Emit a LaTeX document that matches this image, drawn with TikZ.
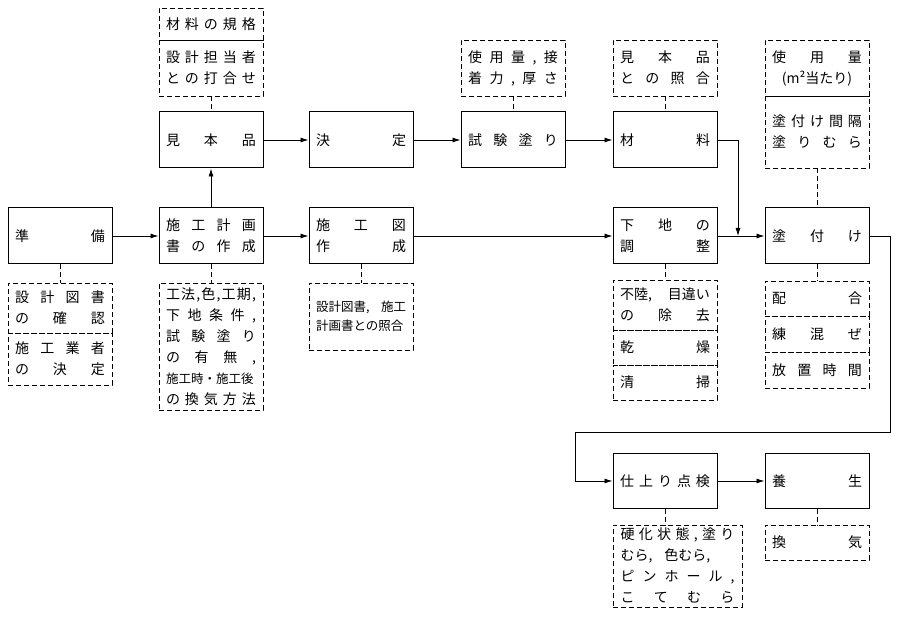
\documentclass[tikz,border=0pt]{standalone}
\usepackage{fontspec}
\setmainfont{Noto Sans CJK JP}
\usetikzlibrary{arrows.meta}
\makeatletter
\def\dist#1{\hbox to 90pt{\distA#1\relax}}
\def\distw#1#2{\hbox to #1{\distA#2\relax}}
\def\distA#1{\ifx#1\relax\else#1\expandafter\distB\fi}
\def\distB#1{\ifx#1\relax\else\hfil#1\expandafter\distB\fi}
\makeatother
\tikzset{
 sbox/.style={draw,line width=1pt,minimum width=104pt,minimum height=56pt,inner sep=0pt,align=center,font=\fontsize{14}{21}\selectfont},
 dbox/.style={draw,dashed,dash pattern=on 5pt off 3pt,line width=0.9pt,minimum width=104pt,inner sep=0pt,align=center,font=\fontsize{14}{21}\selectfont},
 arr/.style={line width=0.8pt,-{Latex[length=8pt,width=5pt]}},
 ln/.style={line width=0.8pt},
 dl/.style={line width=0.8pt,dashed,dash pattern=on 5pt off 3pt}
}
\begin{document}
\begin{tikzpicture}[x=1pt,y=-1pt]
\useasboundingbox (0,0) rectangle (900,617);
% solid boxes
\node[sbox] (mihon) at (211,140) {\dist{見本品}};
\node[sbox] (kettei) at (361,140) {\dist{決定}};
\node[sbox] (shiken) at (513,140) {\dist{試験塗り}};
\node[sbox] (zairyo) at (665,140) {\dist{材料}};
\node[sbox] (junbi) at (60,236) {\dist{準備}};
\node[sbox] (keikaku) at (211,236) {\dist{施工計画}\\\dist{書の作成}};
\node[sbox] (sekozu) at (361,236) {\dist{施工図}\\\hbox to 90pt{作\hfil 成}};
\node[sbox] (shitaji) at (665,236) {\dist{下地の}\\\hbox to 90pt{調\hfil 整}};
\node[sbox] (nuri) at (817,236) {\dist{塗付け}};
\node[sbox,minimum height=54pt] (shiage) at (665,481) {\dist{仕上り点検}};
\node[sbox,minimum height=54pt] (yojo) at (817,481) {\dist{養生}};
% dashed boxes
\node[dbox,minimum height=32pt] (d1) at (211,24) {\dist{材料の規格}};
\node[dbox,minimum height=56pt] (d2) at (211,68) {\dist{設計担当者}\\\dist{との打合せ}};
\node[dbox,minimum height=56pt] (d3) at (513,68) {\dist{使用量,接}\\\dist{着力,厚さ}};
\node[dbox,minimum height=56pt] (d4) at (665,68) {\dist{見本品}\\\dist{との照合}};
\node[dbox,minimum height=56pt] (d5) at (817,68) {\dist{使用量}\\\hbox to 90pt{\hfil(m²当たり)\hfil}};
\node[dbox,minimum height=72pt] (d6) at (817,132) {\dist{塗付け間隔}\\\dist{塗りむら}};
\node[dbox,minimum height=50pt] (d7) at (60,308) {\dist{設計図書}\\\dist{の確認}};
\node[dbox,minimum height=52pt] (d8) at (60,359) {\dist{施工業者}\\\dist{の決定}};
\node[dbox,minimum height=127pt] (d9) at (211,346.5) {\dist{工法,色,工期,}\\\dist{下地条件,}\\\dist{試験塗り}\\\dist{の有無,}\\\hbox to 90pt{\fontsize{12.5}{21}\selectfont 施工時・施工後}\\\dist{の換気方法}};
\node[dbox,minimum height=67pt,font=\fontsize{12.5}{19}\selectfont] (d10) at (361,316.5) {\hbox to 90pt{設計図書,\hfil 施工}\\\hbox to 90pt{計画書との照合}};
\node[dbox,minimum height=50pt] (d11) at (665,305) {\hbox to 90pt{不陸,\hfil 目違い}\\\dist{の除去}};
\node[dbox,minimum height=35pt] (d12) at (665,347.5) {\dist{乾燥}};
\node[dbox,minimum height=35pt] (d13) at (665,382.5) {\dist{清掃}};
\node[dbox,minimum height=35pt] (d14) at (817,298.5) {\dist{配合}};
\node[dbox,minimum height=36pt] (d15) at (817,334) {\dist{練混ぜ}};
\node[dbox,minimum height=36pt] (d16) at (817,370) {\dist{放置時間}};
\node[dbox,minimum width=129pt,minimum height=82pt] (d17) at (677.5,566) {\distw{114pt}{硬化状態,塗り}\\\hbox to 114pt{むら,\hfil 色むら,\hfil\hfil}\\\distw{114pt}{ピンホール,}\\\distw{114pt}{こてむら}};
\node[dbox,minimum height=35pt] (d18) at (817,542.5) {\dist{換気}};
% dashed ties
\draw[dl] (junbi.south) -- (d7.north);
\draw[dl] (keikaku.south) -- (d9.north);
\draw[dl] (sekozu.south) -- (d10.north);
\draw[dl] (shitaji.south) -- (d11.north);
\draw[dl] (nuri.south) -- (d14.north);
\draw[dl] (shiage.south) -- (d17.north -| shiage.south);
\draw[dl] (yojo.south) -- (d18.north);
\draw[dl] (d3.south) -- (shiken.north);
\draw[dl] (d4.south) -- (zairyo.north);
\draw[dl] (d6.south) -- (nuri.north);
\draw[dl] (d2.south) -- (mihon.north);
% arrows
\draw[arr] (junbi) -- (keikaku);
\draw[arr] (keikaku) -- (mihon);
\draw[arr] (mihon) -- (kettei);
\draw[arr] (kettei) -- (shiken);
\draw[arr] (shiken) -- (zairyo);
\draw[arr] (keikaku) -- (sekozu);
\draw[arr] (sekozu) -- (shitaji);
\draw[arr] (shitaji) -- (nuri);
\coordinate (j) at (738,236);
\draw[arr] (zairyo.east) -| (j);
\coordinate (r1) at (890,236);
\coordinate (r2) at (890,432);
\coordinate (r3) at (575,432);
\coordinate (r4) at (575,481);
\draw[arr] (nuri.east) -- (r1) -- (r2) -- (r3) -- (r4) -- (shiage.west);
\draw[arr] (shiage) -- (yojo);
\end{tikzpicture}
\end{document}
